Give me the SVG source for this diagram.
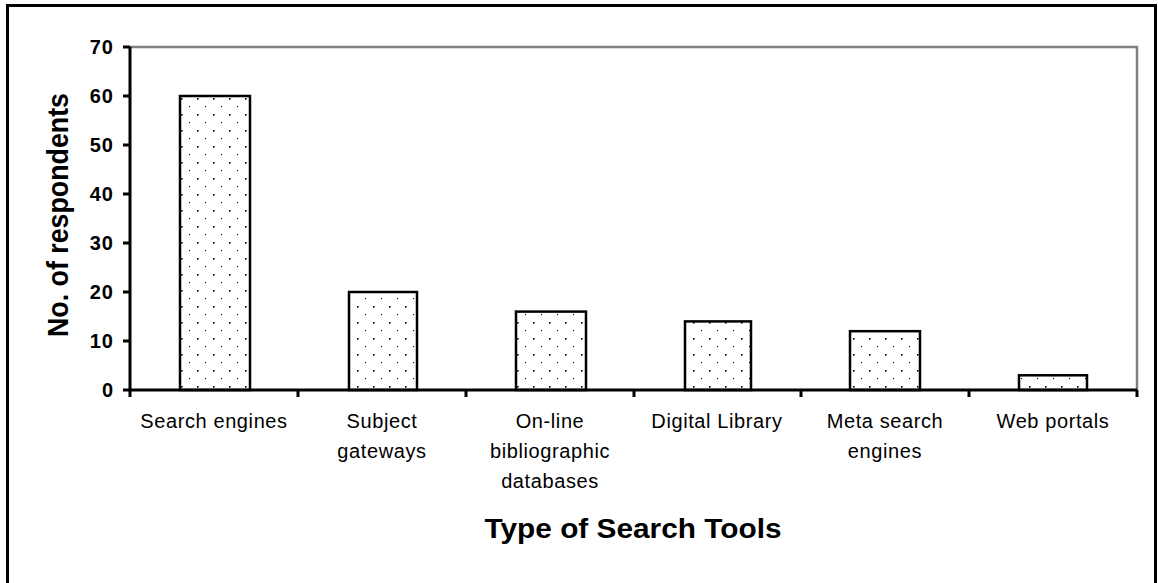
<svg xmlns="http://www.w3.org/2000/svg" width="1158" height="583" viewBox="0 0 1158 583">
<defs>
<pattern id="dots" x="0" y="0" width="16" height="16" patternUnits="userSpaceOnUse">
<rect x="0" y="0" width="16" height="16" fill="#fff"/>
<rect x="5" y="2" width="1.6" height="1.6" fill="#000"/>
<rect x="13" y="10" width="1.1" height="1.1" fill="#000"/>
</pattern>
</defs>
<style>
.bar{fill:url(#dots);stroke:#000;stroke-width:2.5}
.ax{stroke:#000;stroke-width:3;fill:none}
.grid{stroke:#808080;stroke-width:2.5;fill:none}
.tk{font-family:"Liberation Sans",Arial,sans-serif;font-size:20px;font-weight:bold;letter-spacing:1px;text-anchor:end;fill:#000}
.cl{font-family:"Liberation Sans",Arial,sans-serif;font-size:20px;letter-spacing:0.6px;text-anchor:middle;fill:#000}
.tt{font-family:"Liberation Sans",Arial,sans-serif;font-weight:bold;text-anchor:middle;fill:#000}
</style>
<rect width="1158" height="583" fill="#fff"/>
<path d="M7.5 590 V5.5 H1155.5 V590" fill="none" stroke="#000" stroke-width="3"/>
<g id="plot-frame">
<path class="grid" d="M130 47 H1137 V390"/>
</g>
<g id="bars">
<rect id="bar-search-engines" class="bar" x="180" y="96" width="70" height="294"/>
<rect id="bar-subject-gateways" class="bar" x="349" y="292" width="68" height="98"/>
<rect id="bar-online-databases" class="bar" x="516" y="311.6" width="70" height="78.4"/>
<rect id="bar-digital-library" class="bar" x="685" y="321.4" width="66" height="68.6"/>
<rect id="bar-meta-search" class="bar" x="850" y="331.2" width="70" height="58.8"/>
<rect id="bar-web-portals" class="bar" x="1019" y="375.3" width="68" height="14.7"/>
</g>
<g id="axes">
<path class="ax" d="M130 47 V390 H1137"/>
<path class="ax" d="M123 47 H130 M123 96 H130 M123 145 H130 M123 194 H130 M123 243 H130 M123 292 H130 M123 341 H130 M123 390 H130"/>
<path class="ax" d="M130 390 V397 M298 390 V397 M466 390 V397 M634 390 V397 M801 390 V397 M969 390 V397 M1137 390 V397"/>
</g>
<g id="y-ticks">
<text class="tk" x="114" y="54">70</text>
<text class="tk" x="114" y="103">60</text>
<text class="tk" x="114" y="152">50</text>
<text class="tk" x="114" y="201">40</text>
<text class="tk" x="114" y="250">30</text>
<text class="tk" x="114" y="299">20</text>
<text class="tk" x="114" y="348">10</text>
<text class="tk" x="114" y="397">0</text>
</g>
<g id="x-labels">
<text class="cl" x="214" y="428">Search engines</text>
<text class="cl" x="382" y="428">Subject</text>
<text class="cl" x="382" y="458">gateways</text>
<text class="cl" x="550" y="428">On-line</text>
<text class="cl" x="550" y="458">bibliographic</text>
<text class="cl" x="550" y="488">databases</text>
<text class="cl" x="717" y="428">Digital Library</text>
<text class="cl" x="885" y="428">Meta search</text>
<text class="cl" x="885" y="458">engines</text>
<text class="cl" x="1053" y="428">Web portals</text>
</g>
<g id="titles">
<text class="tt" x="633" y="538" font-size="27" textLength="297" lengthAdjust="spacingAndGlyphs">Type of Search Tools</text>
<text class="tt" x="68" y="215" font-size="30" transform="rotate(-90 68 215)" textLength="244" lengthAdjust="spacingAndGlyphs">No. of respondents</text>
</g>
</svg>
